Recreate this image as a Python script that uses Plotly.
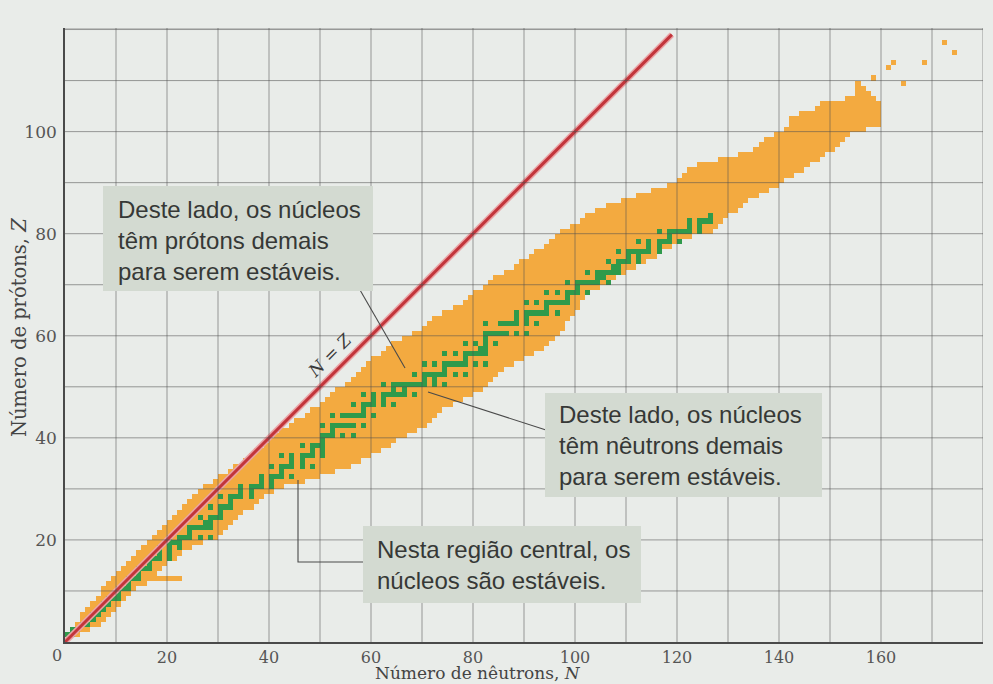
import numpy as np
import plotly.graph_objects as go

# ---------------- data ----------------
# Known nuclides band: for each proton number Z, lowest and highest neutron number N
band_Z = list(range(1, 109))
band_N_min = [0, 1, 2, 3, 3, 4, 5, 6, 7, 7,
              8, 9, 10, 11, 12, 13, 14, 15, 16, 17,
              18, 19, 20, 21, 22, 23, 24, 25, 26, 27,
              29, 30, 32, 33, 35, 36, 37, 39, 40, 41,
              42, 44, 45, 47, 48, 50, 51, 52, 53, 55,
              56, 57, 58, 59, 60, 62, 63, 64, 66, 68,
              70, 71, 72, 74, 76, 78, 79, 80, 82, 83,
              84, 86, 88, 89, 91, 92, 94, 95, 96, 97,
              99, 101, 102, 104, 106, 109, 112, 115, 118, 120,
              121, 122, 124, 128, 132, 135, 136, 137, 139, 141,
              142, 142, 144, 147, 148, 153, 155, 155]
band_N_max = [2, 4, 6, 7, 8, 9, 10, 11, 12, 13,
              15, 22, 17, 18, 19, 21, 22, 24, 26, 29,
              30, 31, 32, 33, 34, 36, 37, 38, 40, 42,
              46, 49, 52, 55, 57, 59, 61, 63, 64, 66,
              68, 70, 71, 72, 73, 75, 77, 79, 81, 82,
              83, 84, 85, 87, 89, 91, 93, 94, 95, 96,
              97, 97, 98, 99, 100, 100, 101, 102, 104, 105,
              107, 109, 111, 113, 115, 116, 118, 120, 122, 126,
              127, 128, 129, 131, 132, 133, 135, 137, 139, 140,
              142, 144, 145, 147, 148, 150, 151, 152, 153, 156,
              159, 159, 159, 159, 159, 158, 157, 156]
# isolated heavy nuclides at the top end
extra_N = [155, 158, 161, 162, 164, 168, 172, 174]
extra_Z = [109, 110, 112, 113, 109, 113, 117, 115]

# stable nuclides: neutron numbers for Z = 1 .. 83
stable_N = [
    [0, 1], [1, 2], [3, 4], [5], [5, 6], [6, 7], [7, 8], [8, 9, 10], [10], [10, 11, 12],
    [12], [12, 13, 14], [14], [14, 15, 16], [16], [16, 17, 18, 20], [18, 20], [18, 20, 22], [20, 21, 22], [20, 22, 23, 24, 26, 28],
    [24], [24, 25, 26, 27, 28], [27, 28], [26, 28, 29, 30], [30], [28, 30, 31, 32], [32], [30, 32, 33, 34, 36], [34, 36], [34, 36, 37, 38, 40],
    [38, 40], [38, 40, 41, 42, 44], [42], [40, 42, 43, 44, 46, 48], [44, 46], [42, 44, 46, 47, 48, 50], [48, 50], [46, 48, 49, 50], [50], [50, 51, 52, 54, 56],
    [52], [50, 52, 53, 54, 55, 56, 58], [], [52, 54, 55, 56, 57, 58, 60], [58], [56, 58, 59, 60, 62, 64], [60, 62], [58, 60, 62, 63, 64, 65, 66, 68], [64, 66], [62, 64, 65, 66, 67, 68, 69, 70, 72, 74],
    [70, 72], [68, 70, 71, 72, 73, 74, 76, 78], [74], [70, 72, 74, 75, 76, 77, 78, 80, 82], [78], [74, 76, 78, 79, 80, 81, 82], [81, 82], [78, 80, 82, 84], [82], [82, 83, 84, 85, 86, 88, 90],
    [], [82, 85, 86, 87, 88, 90, 92], [88, 90], [88, 90, 91, 92, 93, 94, 96], [94], [90, 92, 94, 95, 96, 97, 98], [98], [94, 96, 98, 99, 100, 102], [100], [98, 100, 101, 102, 103, 104, 106],
    [104, 105], [102, 104, 105, 106, 107, 108], [107, 108], [106, 108, 109, 110, 112], [110, 112], [108, 110, 111, 112, 113, 114, 116], [114, 116], [112, 114, 116, 117, 118, 120], [118], [116, 118, 119, 120, 121, 122, 124],
    [122, 124], [122, 124, 125, 126], [126],
]

x_ticks = [20, 40, 60, 80, 100, 120, 140, 160]
y_ticks = [20, 40, 60, 80, 100]
line_NZ = [0, 119]

# ---------------- styling ----------------
X_MAX, Y_MAX = 180.0, 120.3
L, R, T, B = 65, 10, 28, 42
W, H = 993, 684
PW, PH = W - L - R, H - T - B
PAPER = "#e9ece9"
ORANGE = "#f3aa40"
GREEN = "#2f9a4b"
BOX = "#d3dad1"
SERIF = "DejaVu Serif"
SANS = "Liberation Sans"


def dx(px):
    return (px - L) / PW * X_MAX


def dy(py):
    return (H - B - py) / PH * Y_MAX


# build grid of cells
ncols, nrows = 181, 122
z = np.full((nrows, ncols), np.nan)
for Zv, n0, n1 in zip(band_Z, band_N_min, band_N_max):
    for n in range(n0, n1 + 1):
        z[Zv, n] = 1
for n, Zv in zip(extra_N, extra_Z):
    z[Zv, n] = 1
for i, ns in enumerate(stable_N):
    for n in ns:
        z[i + 1, n] = 2

fig = go.Figure()
fig.add_trace(go.Heatmap(
    z=z, x=np.arange(ncols) + 0.5, y=np.arange(nrows) + 0.5,
    zmin=1, zmax=2,
    colorscale=[[0, ORANGE], [0.5, ORANGE], [0.5, GREEN], [1, GREEN]],
    showscale=False, hoverinfo="skip",
))
fig.add_trace(go.Scatter(x=line_NZ, y=line_NZ, mode="lines",
                         line=dict(color="#eaa3a6", width=6), hoverinfo="skip", showlegend=False))
fig.add_trace(go.Scatter(x=line_NZ, y=line_NZ, mode="lines",
                         line=dict(color="#c2353b", width=3), hoverinfo="skip", showlegend=False))

shapes = []
grid_col = "rgba(80,80,80,0.55)"
for v in list(range(10, 180, 10)) + [X_MAX]:
    shapes.append(dict(type="line", xref="x", yref="y", x0=v, x1=v, y0=0, y1=Y_MAX,
                       line=dict(color=grid_col, width=1), layer="above"))
for h in list(range(10, 121, 10)) + [Y_MAX]:
    shapes.append(dict(type="line", xref="x", yref="y", x0=0, x1=X_MAX, y0=h, y1=h,
                       line=dict(color=grid_col, width=1), layer="above"))

lead = dict(color="#4a4a4a", width=1.1)
shapes += [
    dict(type="line", xref="x", yref="y", x0=dx(360), y0=dy(290), x1=dx(405), y1=dy(368), line=lead, layer="above"),
    dict(type="line", xref="x", yref="y", x0=dx(428), y0=dy(392), x1=dx(546), y1=dy(430), line=lead, layer="above"),
    dict(type="path", xref="x", yref="y",
         path=f"M {dx(298)},{dy(480)} L {dx(298)},{dy(562)} L {dx(364)},{dy(562)}", line=lead, layer="above"),
]
for (x0, y0, x1, y1) in [(103, 186, 373, 291), (545, 393, 822, 497), (363, 526, 641, 603)]:
    shapes.append(dict(type="rect", xref="x", yref="y", x0=dx(x0), x1=dx(x1), y0=dy(y1), y1=dy(y0),
                       fillcolor=BOX, line=dict(width=0), layer="above"))

ann = []
box_font = dict(family=SANS, size=24, color="#363836")
ann.append(dict(x=dx(116), y=dy(240), xref="x", yref="y", xanchor="left", yanchor="middle",
                align="left", showarrow=False, font=box_font,
                text="Deste lado, os núcleos<br>têm prótons demais<br>para serem estáveis."))
ann.append(dict(x=dx(557), y=dy(445), xref="x", yref="y", xanchor="left", yanchor="middle",
                align="left", showarrow=False, font=box_font,
                text="Deste lado, os núcleos<br>têm nêutrons demais<br>para serem estáveis."))
ann.append(dict(x=dx(375), y=dy(565), xref="x", yref="y", xanchor="left", yanchor="middle",
                align="left", showarrow=False, font=box_font,
                text="Nesta região central, os<br>núcleos são estáveis."))
ann.append(dict(x=dx(330), y=dy(355), xref="x", yref="y", showarrow=False, textangle=-45,
                font=dict(family=SERIF, size=17, color="#3a3a3a"), text="<i>N</i> = <i>Z</i>"))
ann.append(dict(x=(478 - L) / PW, y=-(H - (H - B)) / PH, xref="paper", yref="paper",
                showarrow=False, xanchor="center", yanchor="bottom", borderpad=0,
                font=dict(family=SERIF, size=17, color="#444"), text="Número de nêutrons, <i>N</i>"))
ann.append(dict(x=-(L - 19) / PW, y=(H - B - 328) / PH, xref="paper", yref="paper",
                showarrow=False, xanchor="center", yanchor="middle", textangle=-90,
                font=dict(family=SERIF, size=19.5, color="#444"), text="Número de prótons, <i>Z</i>"))
ann.append(dict(x=-(L - 57) / PW, y=-(655 - (H - B)) / PH, xref="paper", yref="paper",
                showarrow=False, xanchor="center", yanchor="middle",
                font=dict(family=SERIF, size=16, color="#555"), text="0"))

fig.update_layout(
    width=W, height=H, margin=dict(l=L, r=R, t=T, b=B, autoexpand=False),
    paper_bgcolor=PAPER, plot_bgcolor=PAPER,
    showlegend=False, shapes=shapes, annotations=ann,
    xaxis=dict(range=[0, X_MAX], tickvals=x_ticks, ticktext=[str(v) for v in x_ticks],
               showgrid=False, zeroline=False, showline=True, linecolor="#4a4a4a", linewidth=1.6,
               ticks="", ticklabelstandoff=0, automargin=False,
               tickfont=dict(family=SERIF, size=16, color="#555"), fixedrange=True),
    yaxis=dict(range=[0, Y_MAX], tickvals=y_ticks, ticktext=[str(v) for v in y_ticks],
               showgrid=False, zeroline=False, showline=True, linecolor="#4a4a4a", linewidth=1.6,
               ticks="", ticklabelstandoff=3, automargin=False,
               tickfont=dict(family=SERIF, size=17, color="#555"), fixedrange=True),
)

fig.write_html("out.html", config={"displayModeBar": False},
               post_script="document.body.style.margin='0';document.body.style.background='%s';" % PAPER)
